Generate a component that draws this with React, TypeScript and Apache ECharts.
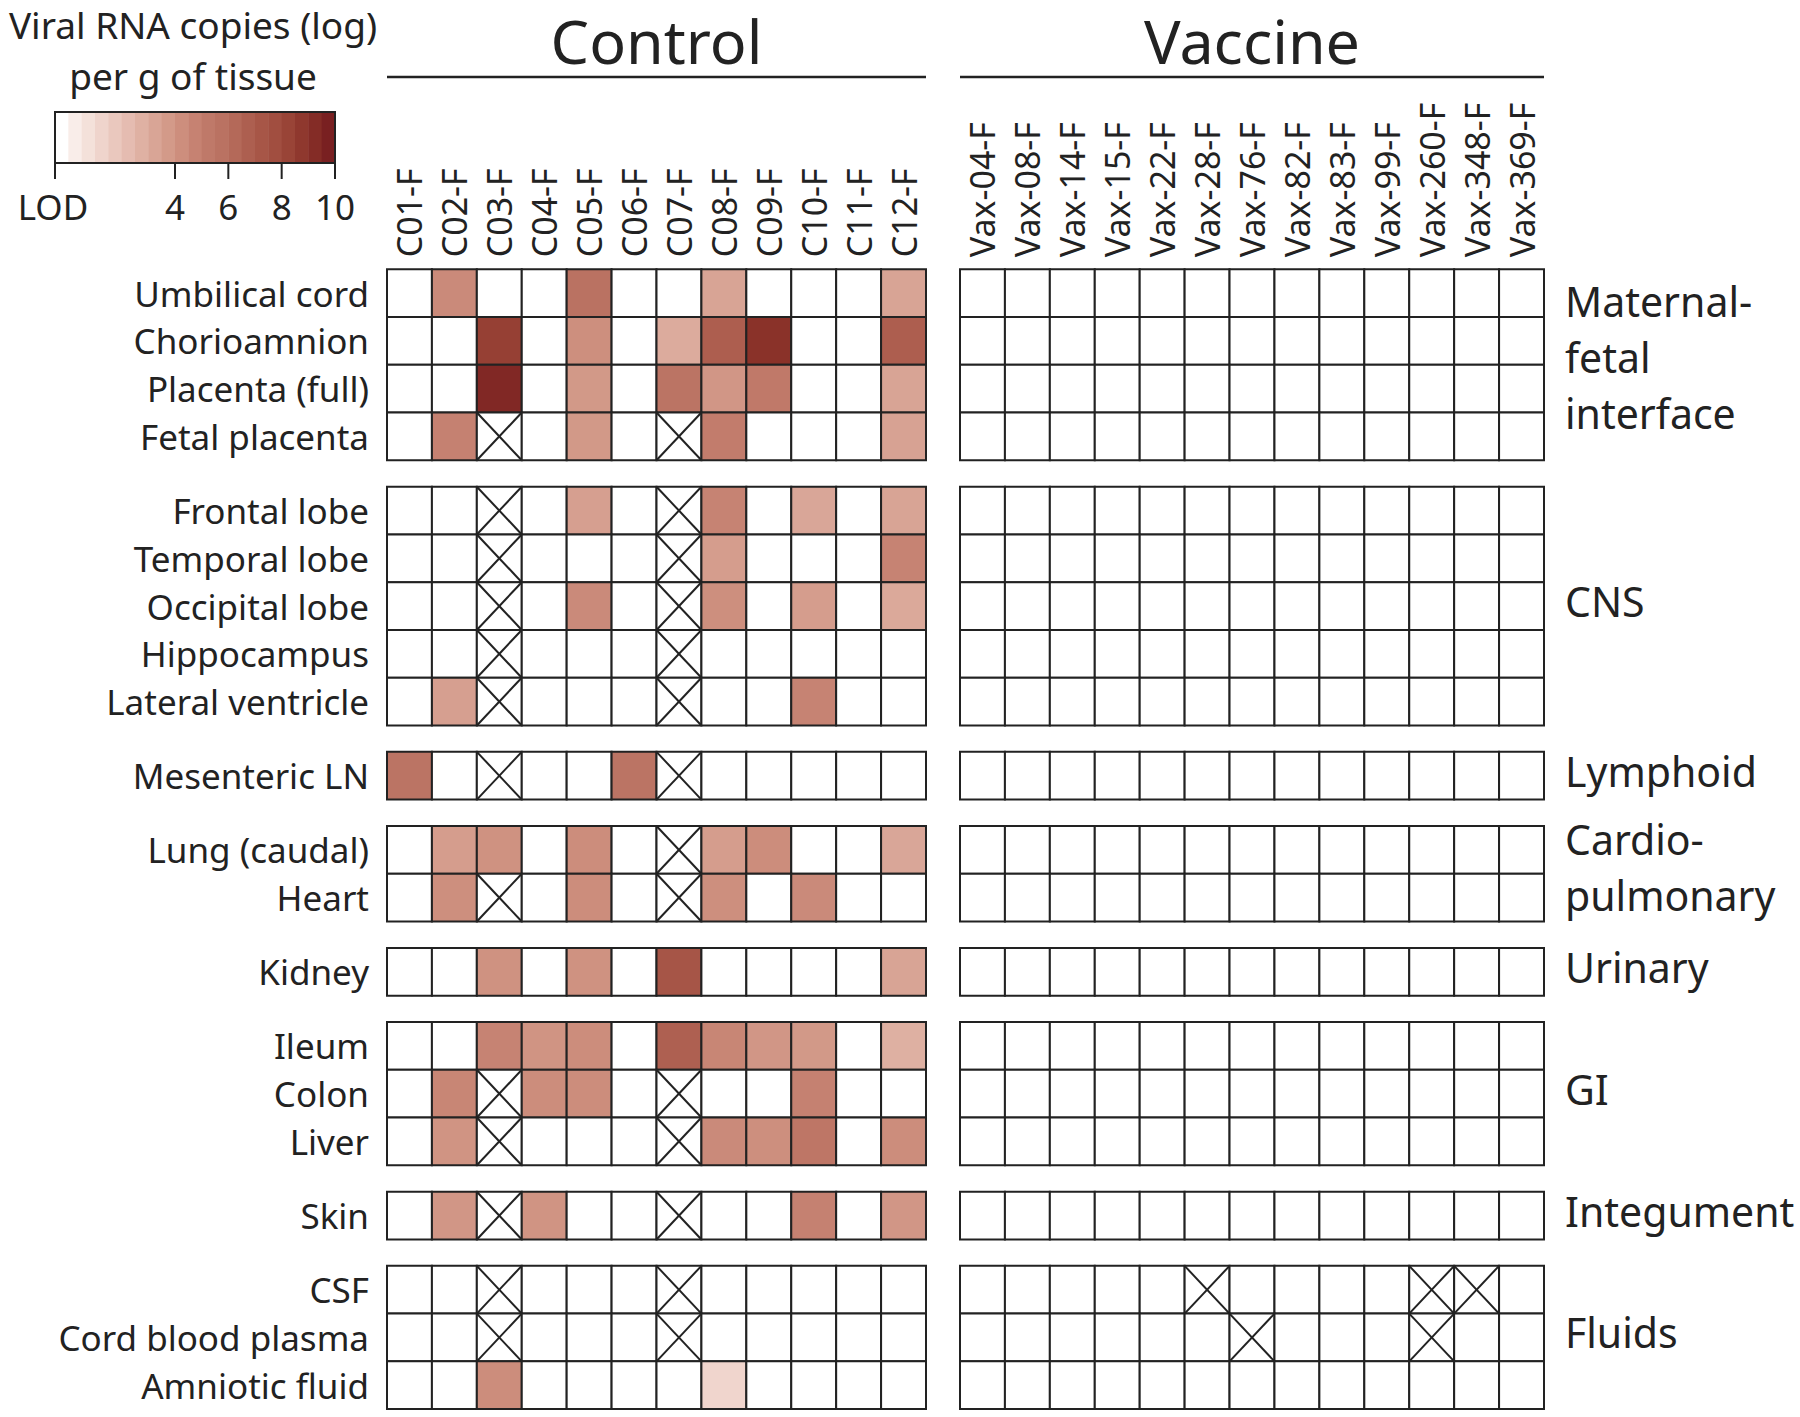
import React, { useEffect, useRef } from "react";
import * as echarts from "echarts";

// ---------- data ----------
const controlIds = ["C01-F", "C02-F", "C03-F", "C04-F", "C05-F", "C06-F", "C07-F", "C08-F", "C09-F", "C10-F", "C11-F", "C12-F"];
const vaccineIds = ["Vax-04-F", "Vax-08-F", "Vax-14-F", "Vax-15-F", "Vax-22-F", "Vax-28-F", "Vax-76-F", "Vax-82-F", "Vax-83-F", "Vax-99-F", "Vax-260-F", "Vax-348-F", "Vax-369-F"];

const groupNames = ["Maternal-\nfetal\ninterface", "CNS", "Lymphoid", "Cardio-\npulmonary", "Urinary", "GI", "Integument", "Fluids"];
const groupTissues = [
  ["Umbilical cord", "Chorioamnion", "Placenta (full)", "Fetal placenta"],
  ["Frontal lobe", "Temporal lobe", "Occipital lobe", "Hippocampus", "Lateral ventricle"],
  ["Mesenteric LN"],
  ["Lung (caudal)", "Heart"],
  ["Kidney"],
  ["Ileum", "Colon", "Liver"],
  ["Skin"],
  ["CSF", "Cord blood plasma", "Amniotic fluid"],
];

// log10 viral RNA copies per g; 0 = below LOD, -1 = not tested (crossed cell)
const X = -1;
const controlValues = [
  [0, 4.4, 0, 0, 5.7, 0, 0, 3.3, 0, 0, 0, 3.3],
  [0, 0, 8.4, 0, 4.2, 0, 3.0, 6.8, 9.0, 0, 0, 6.8],
  [0, 0, 9.4, 0, 3.8, 0, 5.6, 3.9, 5.2, 0, 0, 3.3],
  [0, 4.8, X, 0, 3.8, 0, X, 5.0, 0, 0, 0, 3.4],
  [0, 0, X, 0, 3.5, 0, X, 4.7, 0, 3.2, 0, 3.3],
  [0, 0, X, 0, 0, 0, X, 3.6, 0, 0, 0, 4.7],
  [0, 0, X, 0, 4.4, 0, X, 4.2, 0, 3.6, 0, 3.1],
  [0, 0, X, 0, 0, 0, X, 0, 0, 0, 0, 0],
  [0, 3.5, X, 0, 0, 0, X, 0, 0, 4.7, 0, 0],
  [5.6, 0, X, 0, 0, 5.6, X, 0, 0, 0, 0, 0],
  [0, 3.6, 4.1, 0, 4.3, 0, X, 3.6, 4.3, 0, 0, 3.2],
  [0, 4.2, X, 0, 4.3, 0, X, 4.2, 0, 4.4, 0, 0],
  [0, 0, 4.1, 0, 4.1, 0, 7.3, 0, 0, 0, 0, 3.3],
  [0, 0, 4.7, 4.0, 4.3, 0, 6.7, 4.6, 3.9, 3.8, 0, 2.8],
  [0, 4.6, X, 4.3, 4.3, 0, X, 0, 0, 4.8, 0, 0],
  [0, 4.0, X, 0, 0, 0, X, 4.4, 4.2, 5.4, 0, 4.3],
  [0, 3.9, X, 4.0, 0, 0, X, 0, 0, 4.8, 0, 3.9],
  [0, 0, X, 0, 0, 0, X, 0, 0, 0, 0, 0],
  [0, 0, X, 0, 0, 0, X, 0, 0, 0, 0, 0],
  [0, 0, 4.3, 0, 0, 0, 0, 1.2, 0, 0, 0, 0],
];

const vaccineValues = [
  [0, 0, 0, 0, 0, 0, 0, 0, 0, 0, 0, 0, 0],
  [0, 0, 0, 0, 0, 0, 0, 0, 0, 0, 0, 0, 0],
  [0, 0, 0, 0, 0, 0, 0, 0, 0, 0, 0, 0, 0],
  [0, 0, 0, 0, 0, 0, 0, 0, 0, 0, 0, 0, 0],
  [0, 0, 0, 0, 0, 0, 0, 0, 0, 0, 0, 0, 0],
  [0, 0, 0, 0, 0, 0, 0, 0, 0, 0, 0, 0, 0],
  [0, 0, 0, 0, 0, 0, 0, 0, 0, 0, 0, 0, 0],
  [0, 0, 0, 0, 0, 0, 0, 0, 0, 0, 0, 0, 0],
  [0, 0, 0, 0, 0, 0, 0, 0, 0, 0, 0, 0, 0],
  [0, 0, 0, 0, 0, 0, 0, 0, 0, 0, 0, 0, 0],
  [0, 0, 0, 0, 0, 0, 0, 0, 0, 0, 0, 0, 0],
  [0, 0, 0, 0, 0, 0, 0, 0, 0, 0, 0, 0, 0],
  [0, 0, 0, 0, 0, 0, 0, 0, 0, 0, 0, 0, 0],
  [0, 0, 0, 0, 0, 0, 0, 0, 0, 0, 0, 0, 0],
  [0, 0, 0, 0, 0, 0, 0, 0, 0, 0, 0, 0, 0],
  [0, 0, 0, 0, 0, 0, 0, 0, 0, 0, 0, 0, 0],
  [0, 0, 0, 0, 0, 0, 0, 0, 0, 0, 0, 0, 0],
  [0, 0, 0, 0, 0, X, 0, 0, 0, 0, X, X, 0],
  [0, 0, 0, 0, 0, 0, X, 0, 0, 0, X, 0, 0],
  [0, 0, 0, 0, 0, 0, 0, 0, 0, 0, 0, 0, 0],
];

const legendTickValues = [-0.5, 4, 6, 8, 10];
const legendTickLabels = ["LOD", "4", "6", "8", "10"];
const colorStops: [number, string][] = [
  [-0.5, "#ffffff"],
  [0.55, "#f6e6e0"],
  [1.6, "#eccbc2"],
  [2.65, "#e0b3a6"],
  [4, "#d09483"],
  [5, "#c27c6c"],
  [6, "#b76e5e"],
  [7, "#aa5a4b"],
  [8, "#9e4a3c"],
  [9, "#8a3229"],
  [10, "#731a1e"],
];

// ---------- helpers ----------
const FONT = "'Noto Sans', 'Open Sans', sans-serif";
const INK = "#222222";

function hexToRgb(h: string) {
  const n = parseInt(h.slice(1), 16);
  return [(n >> 16) & 255, (n >> 8) & 255, n & 255];
}
function colorOf(v: number): string {
  if (v <= 0) return "#ffffff";
  if (v >= colorStops[colorStops.length - 1][0]) return colorStops[colorStops.length - 1][1];
  for (let i = 0; i < colorStops.length - 1; i++) {
    const [v0, c0] = colorStops[i];
    const [v1, c1] = colorStops[i + 1];
    if (v >= v0 && v <= v1) {
      const t = (v - v0) / (v1 - v0);
      const a = hexToRgb(c0), b = hexToRgb(c1);
      const r = a.map((x, k) => Math.round(x + (b[k] - x) * t));
      return `rgb(${r[0]},${r[1]},${r[2]})`;
    }
  }
  return "#ffffff";
}

export default function App() {
  const ref = useRef<HTMLDivElement>(null);
  useEffect(() => {
    document.body.style.margin = "0";
    const chart = echarts.init(ref.current!, null, { renderer: "svg" });

    const ROW_H = 47.75, GAP = 26.4, TOP0 = 269.3;
    const CTRL_LEFT = 387, CTRL_W = 539, VAX_LEFT = 960, VAX_W = 584;

    const renderItem = (params: any, api: any) => {
      const v = api.value(2);
      const c = api.coord([api.value(0), api.value(1)]);
      const s = api.size([1, 1]);
      const x0 = c[0] - s[0] / 2, y0 = c[1] - s[1] / 2;
      const children: any[] = [
        { type: "rect", shape: { x: x0, y: y0, width: s[0], height: s[1] }, style: { fill: colorOf(v), stroke: INK, lineWidth: 2 } },
      ];
      if (v < 0) {
        children.push(
          { type: "line", shape: { x1: x0, y1: y0, x2: x0 + s[0], y2: y0 + s[1] }, style: { stroke: INK, lineWidth: 2 } },
          { type: "line", shape: { x1: x0 + s[0], y1: y0, x2: x0, y2: y0 + s[1] }, style: { stroke: INK, lineWidth: 2 } }
        );
      }
      return { type: "group", children };
    };

    const grids: any[] = [], xAxes: any[] = [], yAxes: any[] = [], series: any[] = [], graphics: any[] = [];
    let top = TOP0;
    let rowStart = 0;
    groupTissues.forEach((tissues, g) => {
      const h = tissues.length * ROW_H;
      [0, 1].forEach((side) => {
        const idx = g * 2 + side;
        grids.push({ left: side ? VAX_LEFT : CTRL_LEFT, width: side ? VAX_W : CTRL_W, top, height: h });
        xAxes.push({
          type: "category", gridIndex: idx, data: side ? vaccineIds : controlIds, position: "top",
          axisLine: { show: false }, axisTick: { show: false }, splitLine: { show: false },
          axisLabel: { show: g === 0, rotate: -90, margin: 12, interval: 0, fontSize: 34, color: INK, fontFamily: FONT },
        });
        yAxes.push({
          type: "category", gridIndex: idx, data: tissues, inverse: true,
          axisLine: { show: false }, axisTick: { show: false }, splitLine: { show: false },
          axisLabel: { show: side === 0, margin: 18, interval: 0, fontSize: 35, color: INK, fontFamily: FONT },
        });
        const data: number[][] = [];
        const src = side ? vaccineValues : controlValues;
        tissues.forEach((_, r) => src[rowStart + r].forEach((v, c) => data.push([c, r, v])));
        series.push({ type: "custom", xAxisIndex: idx, yAxisIndex: idx, data, renderItem, silent: true });
      });
      const nLines = groupNames[g].split("\n").length;
      graphics.push({
        type: "text", x: 1565, y: top + h / 2 - 5 - (nLines - 1) * 1.5,
        style: { text: groupNames[g], fontSize: 41, fontFamily: FONT, fill: INK, lineHeight: 56, align: "left", textAlign: "left", verticalAlign: "middle", textVerticalAlign: "middle" },
      });
      top += h + GAP;
      rowStart += tissues.length;
    });

    // headers
    const headers = [
      { text: "Control", left: CTRL_LEFT, w: CTRL_W },
      { text: "Vaccine", left: VAX_LEFT, w: VAX_W },
    ];
    headers.forEach((hd) => {
      graphics.push({ type: "text", x: hd.left + hd.w / 2, y: 40, style: { text: hd.text, fontSize: 61, lineHeight: 64, fontFamily: FONT, fill: INK, align: "center", textAlign: "center", verticalAlign: "middle", textVerticalAlign: "middle" } });
      graphics.push({ type: "line", shape: { x1: hd.left, y1: 77, x2: hd.left + hd.w, y2: 77 }, style: { stroke: INK, lineWidth: 2.5 } });
    });

    // colour legend
    const LG_L = 55, LG_W = 280, LG_T = 112, LG_H = 51;
    const vmin = -0.5, vmax = 10, steps = 21;
    const toX = (v: number) => LG_L + ((v - vmin) / (vmax - vmin)) * LG_W;
    for (let i = 0; i < steps; i++) {
      const vc = vmin + ((i + 0.5) * (vmax - vmin)) / steps;
      graphics.push({ type: "rect", shape: { x: LG_L + (i * LG_W) / steps, y: LG_T, width: LG_W / steps + 0.5, height: LG_H }, style: { fill: i === 0 ? "#ffffff" : colorOf(vc) } });
    }
    graphics.push({ type: "rect", shape: { x: LG_L, y: LG_T, width: LG_W, height: LG_H }, style: { fill: "none", stroke: INK, lineWidth: 2 } });
    legendTickValues.forEach((v, i) => {
      const x = toX(v);
      graphics.push({ type: "line", shape: { x1: x, y1: LG_T + LG_H, x2: x, y2: LG_T + LG_H + 16 }, style: { stroke: INK, lineWidth: 2 } });
      graphics.push({ type: "text", x: i === 0 ? x - 2 : x, y: 206, style: { text: legendTickLabels[i], fontSize: 35, fontFamily: FONT, fill: INK, align: "center", textAlign: "center", verticalAlign: "middle", textVerticalAlign: "middle" } });
    });
    graphics.push({ type: "text", x: 193, y: 50, style: { text: "Viral RNA copies (log)\nper g of tissue", fontSize: 37, lineHeight: 51, fontFamily: FONT, fill: INK, align: "center", textAlign: "center", verticalAlign: "middle", textVerticalAlign: "middle" } });

    chart.setOption({
      animation: false,
      backgroundColor: "#ffffff",
      textStyle: { fontFamily: FONT },
      grid: grids,
      xAxis: xAxes,
      yAxis: yAxes,
      series,
      graphic: graphics,
    });
    return () => chart.dispose();
  }, []);
  return <div ref={ref} style={{ width: 1800, height: 1417 }} />;
}
